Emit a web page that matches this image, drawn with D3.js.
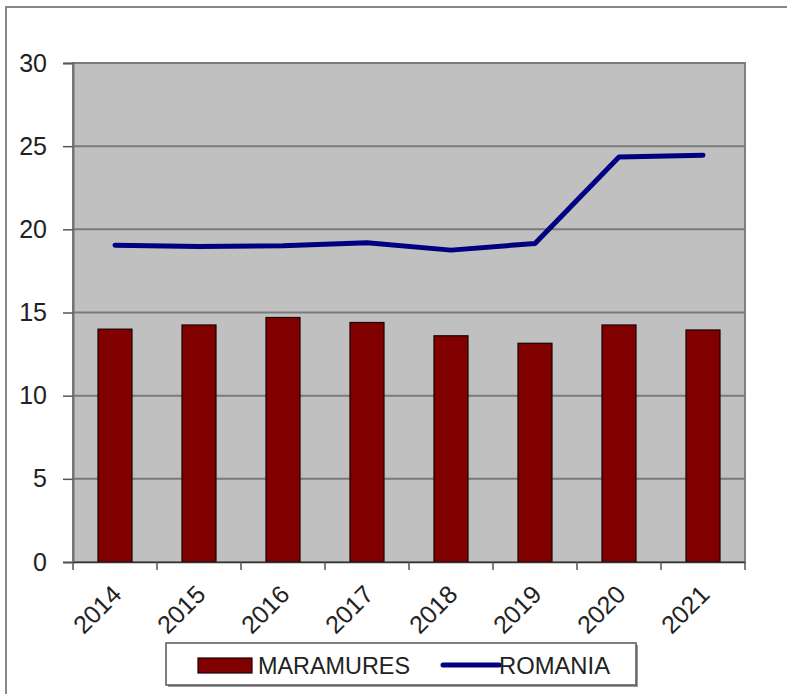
<!DOCTYPE html>
<html><head><meta charset="utf-8">
<script src="https://cdn.jsdelivr.net/npm/d3@7"></script>
<style>body{margin:0;background:#fff}svg{display:block}text{font-family:"Liberation Sans",Arial,sans-serif;fill:#222}</style>
</head><body><svg id="c" width="787" height="694"></svg>
<script>
const years = ["2014","2015","2016","2017","2018","2019","2020","2021"];
const maramures = [14.0, 14.25, 14.7, 14.4, 13.6, 13.15, 14.25, 13.95];
const romania = [19.05, 18.97, 19.02, 19.2, 18.75, 19.15, 24.35, 24.45];
const yTicks = [0, 5, 10, 15, 20, 25, 30];
const seriesNames = ["MARAMURES", "ROMANIA"];

const svg = d3.select("#c");
const L = 73, R = 745, T = 63, B = 562;
const x = d3.scaleBand().domain(years).range([L, R]);
const y = d3.scaleLinear().domain([0, 30]).range([B, T]);

// outer frame (left & top visible)
svg.append("rect").attr("x", 6).attr("y", 7).attr("width", 800).attr("height", 700)
  .attr("fill", "none").attr("stroke", "#888").attr("stroke-width", 2);

// plot background
svg.append("rect").attr("x", L).attr("y", T).attr("width", R - L).attr("height", B - T)
  .attr("fill", "#c0c0c0").attr("stroke", "#808080").attr("stroke-width", 2);

// gridlines
svg.append("g").selectAll("line").data(yTicks.filter(d => d > 0)).join("line")
  .attr("x1", L).attr("x2", R).attr("y1", d => y(d)).attr("y2", d => y(d))
  .attr("stroke", "#7a7a7a").attr("stroke-width", 2);

// y axis
const ya = svg.append("g").attr("transform", `translate(${L},0)`)
  .call(d3.axisLeft(y).tickValues(yTicks).tickSize(10).tickPadding(16));
ya.select(".domain").attr("stroke", "#707070").attr("stroke-width", 2);
ya.selectAll(".tick line").attr("stroke", "#555").attr("stroke-width", 1.5);
ya.selectAll("text").attr("font-size", 25).attr("fill", "#222")
  .attr("font-family", '"Liberation Sans",Arial,sans-serif');

// bars
svg.append("g").selectAll("rect").data(years).join("rect")
  .attr("x", d => x(d) + x.bandwidth() / 2 - 17)
  .attr("width", 34)
  .attr("y", (d, i) => y(maramures[i]))
  .attr("height", (d, i) => B - y(maramures[i]))
  .attr("fill", "#800000").attr("stroke", "#1a0000").attr("stroke-width", 1.2);

// x axis
const xa = svg.append("g").attr("transform", `translate(0,${B})`)
  .call(d3.axisBottom(x).tickSize(0).tickPadding(0).tickFormat(() => ""));
xa.select(".domain").attr("stroke", "#333").attr("stroke-width", 1.5);
// category boundary ticks
const bounds = years.map(d => x(d)).concat([R]);
svg.append("g").selectAll("line").data(bounds).join("line")
  .attr("x1", d => d).attr("x2", d => d).attr("y1", B).attr("y2", B + 8)
  .attr("stroke", "#555").attr("stroke-width", 1.5);
// rotated labels
svg.append("g").selectAll("text").data(years).join("text")
  .attr("transform", d => `translate(${x(d) + x.bandwidth() / 2 + 8},${B + 34}) rotate(-45)`)
  .attr("text-anchor", "end").attr("font-size", 25).attr("fill", "#222")
  .text(d => d);

// line
const line = d3.line().x((d, i) => x(years[i]) + x.bandwidth() / 2).y(d => y(d));
svg.append("path").datum(romania).attr("d", line)
  .attr("fill", "none").attr("stroke", "#000080").attr("stroke-width", 5)
  .attr("stroke-linejoin", "round").attr("stroke-linecap", "round");

// legend
const lg = svg.append("g");
lg.append("rect").attr("x", 168).attr("y", 645).attr("width", 470).attr("height", 42).attr("fill", "#999");
lg.append("rect").attr("x", 166).attr("y", 643).attr("width", 470).attr("height", 42)
  .attr("fill", "#fff").attr("stroke", "#555").attr("stroke-width", 1.5);
lg.append("rect").attr("x", 198).attr("y", 658).attr("width", 54).attr("height", 15)
  .attr("fill", "#800000").attr("stroke", "#1a0000").attr("stroke-width", 1.2);
lg.append("text").attr("x", 258).attr("y", 674).attr("font-size", 24)
  .attr("textLength", 152).attr("lengthAdjust", "spacingAndGlyphs").text(seriesNames[0]);
lg.append("line").attr("x1", 443).attr("x2", 499).attr("y1", 665).attr("y2", 665)
  .attr("stroke", "#000080").attr("stroke-width", 5).attr("stroke-linecap", "round");
lg.append("text").attr("x", 499).attr("y", 674).attr("font-size", 24)
  .attr("textLength", 111).attr("lengthAdjust", "spacingAndGlyphs").text(seriesNames[1]);
</script></body></html>
